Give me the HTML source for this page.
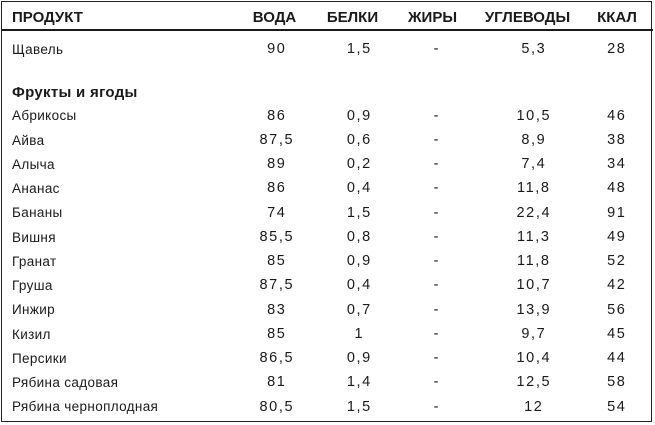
<!DOCTYPE html>
<html>
<head>
<meta charset="utf-8">
<style>
  html,body{margin:0;padding:0;background:#fff;}
  body{width:655px;height:425px;position:relative;overflow:hidden;
       font-family:"Liberation Sans","Noto Sans CJK SC",sans-serif;color:#1a1a1a;}
  .box{position:absolute;left:1px;top:1px;width:649px;height:419px;border:1.5px solid #222;}
  .hline{position:absolute;left:1px;top:29px;width:652px;height:2px;background:#1a1a1a;}
  .h{position:absolute;top:10px;font-size:15px;line-height:15px;font-weight:bold;white-space:nowrap;}
  .hc{width:120px;text-align:center;}
  .n{position:absolute;left:12px;font-size:13.5px;line-height:13.5px;letter-spacing:0.35px;white-space:nowrap;}
  .b{position:absolute;left:12px;font-size:15px;line-height:15px;font-weight:bold;letter-spacing:0.3px;white-space:nowrap;}
  .v{position:absolute;width:80px;text-align:center;font-size:14.5px;line-height:14.5px;letter-spacing:1.6px;padding-left:1.6px;box-sizing:border-box;white-space:nowrap;margin-top:-0.4px;}
  .c1{left:236px;} .c2{left:318.5px;} .c3{left:396px;} .c4{left:493px;} .c5{left:576px;}
</style>
</head>
<body>
<div class="box"></div>
<div class="hline"></div>

<div class="h" style="left:12px;">ПРОДУКТ</div>
<div class="h hc" style="left:214.5px;">ВОДА</div>
<div class="h hc" style="left:292.5px;">БЕЛКИ</div>
<div class="h hc" style="left:372.5px;">ЖИРЫ</div>
<div class="h hc" style="left:467.5px;">УГЛЕВОДЫ</div>
<div class="h hc" style="left:557px;">ККАЛ</div>

<div class="n" style="top:43px;">Щавель</div>
<div class="v c1" style="top:42.7px;">90</div>
<div class="v c2" style="top:42.7px;">1,5</div>
<div class="v c3" style="top:42.7px;">-</div>
<div class="v c4" style="top:42.7px;">5,3</div>
<div class="v c5" style="top:42.7px;">28</div>

<div class="b" style="top:85px;">Фрукты и ягоды</div>

<div class="n" style="top:109.3px;">Абрикосы</div>
<div class="v c1" style="top:108.9px;">86</div><div class="v c2" style="top:108.9px;">0,9</div><div class="v c3" style="top:108.9px;">-</div><div class="v c4" style="top:108.9px;">10,5</div><div class="v c5" style="top:108.9px;">46</div>

<div class="n" style="top:133.55px;">Айва</div>
<div class="v c1" style="top:133.15px;">87,5</div><div class="v c2" style="top:133.15px;">0,6</div><div class="v c3" style="top:133.15px;">-</div><div class="v c4" style="top:133.15px;">8,9</div><div class="v c5" style="top:133.15px;">38</div>

<div class="n" style="top:157.8px;">Алыча</div>
<div class="v c1" style="top:157.4px;">89</div><div class="v c2" style="top:157.4px;">0,2</div><div class="v c3" style="top:157.4px;">-</div><div class="v c4" style="top:157.4px;">7,4</div><div class="v c5" style="top:157.4px;">34</div>

<div class="n" style="top:182.05px;">Ананас</div>
<div class="v c1" style="top:181.65px;">86</div><div class="v c2" style="top:181.65px;">0,4</div><div class="v c3" style="top:181.65px;">-</div><div class="v c4" style="top:181.65px;">11,8</div><div class="v c5" style="top:181.65px;">48</div>

<div class="n" style="top:206.3px;">Бананы</div>
<div class="v c1" style="top:205.9px;">74</div><div class="v c2" style="top:205.9px;">1,5</div><div class="v c3" style="top:205.9px;">-</div><div class="v c4" style="top:205.9px;">22,4</div><div class="v c5" style="top:205.9px;">91</div>

<div class="n" style="top:230.55px;">Вишня</div>
<div class="v c1" style="top:230.15px;">85,5</div><div class="v c2" style="top:230.15px;">0,8</div><div class="v c3" style="top:230.15px;">-</div><div class="v c4" style="top:230.15px;">11,3</div><div class="v c5" style="top:230.15px;">49</div>

<div class="n" style="top:254.8px;">Гранат</div>
<div class="v c1" style="top:254.4px;">85</div><div class="v c2" style="top:254.4px;">0,9</div><div class="v c3" style="top:254.4px;">-</div><div class="v c4" style="top:254.4px;">11,8</div><div class="v c5" style="top:254.4px;">52</div>

<div class="n" style="top:279.05px;">Груша</div>
<div class="v c1" style="top:278.65px;">87,5</div><div class="v c2" style="top:278.65px;">0,4</div><div class="v c3" style="top:278.65px;">-</div><div class="v c4" style="top:278.65px;">10,7</div><div class="v c5" style="top:278.65px;">42</div>

<div class="n" style="top:303.3px;">Инжир</div>
<div class="v c1" style="top:302.9px;">83</div><div class="v c2" style="top:302.9px;">0,7</div><div class="v c3" style="top:302.9px;">-</div><div class="v c4" style="top:302.9px;">13,9</div><div class="v c5" style="top:302.9px;">56</div>

<div class="n" style="top:327.55px;">Кизил</div>
<div class="v c1" style="top:327.15px;">85</div><div class="v c2" style="top:327.15px;">1</div><div class="v c3" style="top:327.15px;">-</div><div class="v c4" style="top:327.15px;">9,7</div><div class="v c5" style="top:327.15px;">45</div>

<div class="n" style="top:351.8px;">Персики</div>
<div class="v c1" style="top:351.4px;">86,5</div><div class="v c2" style="top:351.4px;">0,9</div><div class="v c3" style="top:351.4px;">-</div><div class="v c4" style="top:351.4px;">10,4</div><div class="v c5" style="top:351.4px;">44</div>

<div class="n" style="top:376.05px;">Рябина садовая</div>
<div class="v c1" style="top:375.65px;">81</div><div class="v c2" style="top:375.65px;">1,4</div><div class="v c3" style="top:375.65px;">-</div><div class="v c4" style="top:375.65px;">12,5</div><div class="v c5" style="top:375.65px;">58</div>

<div class="n" style="top:400.3px;">Рябина черноплодная</div>
<div class="v c1" style="top:399.9px;">80,5</div><div class="v c2" style="top:399.9px;">1,5</div><div class="v c3" style="top:399.9px;">-</div><div class="v c4" style="top:399.9px;">12</div><div class="v c5" style="top:399.9px;">54</div>

</body>
</html>
